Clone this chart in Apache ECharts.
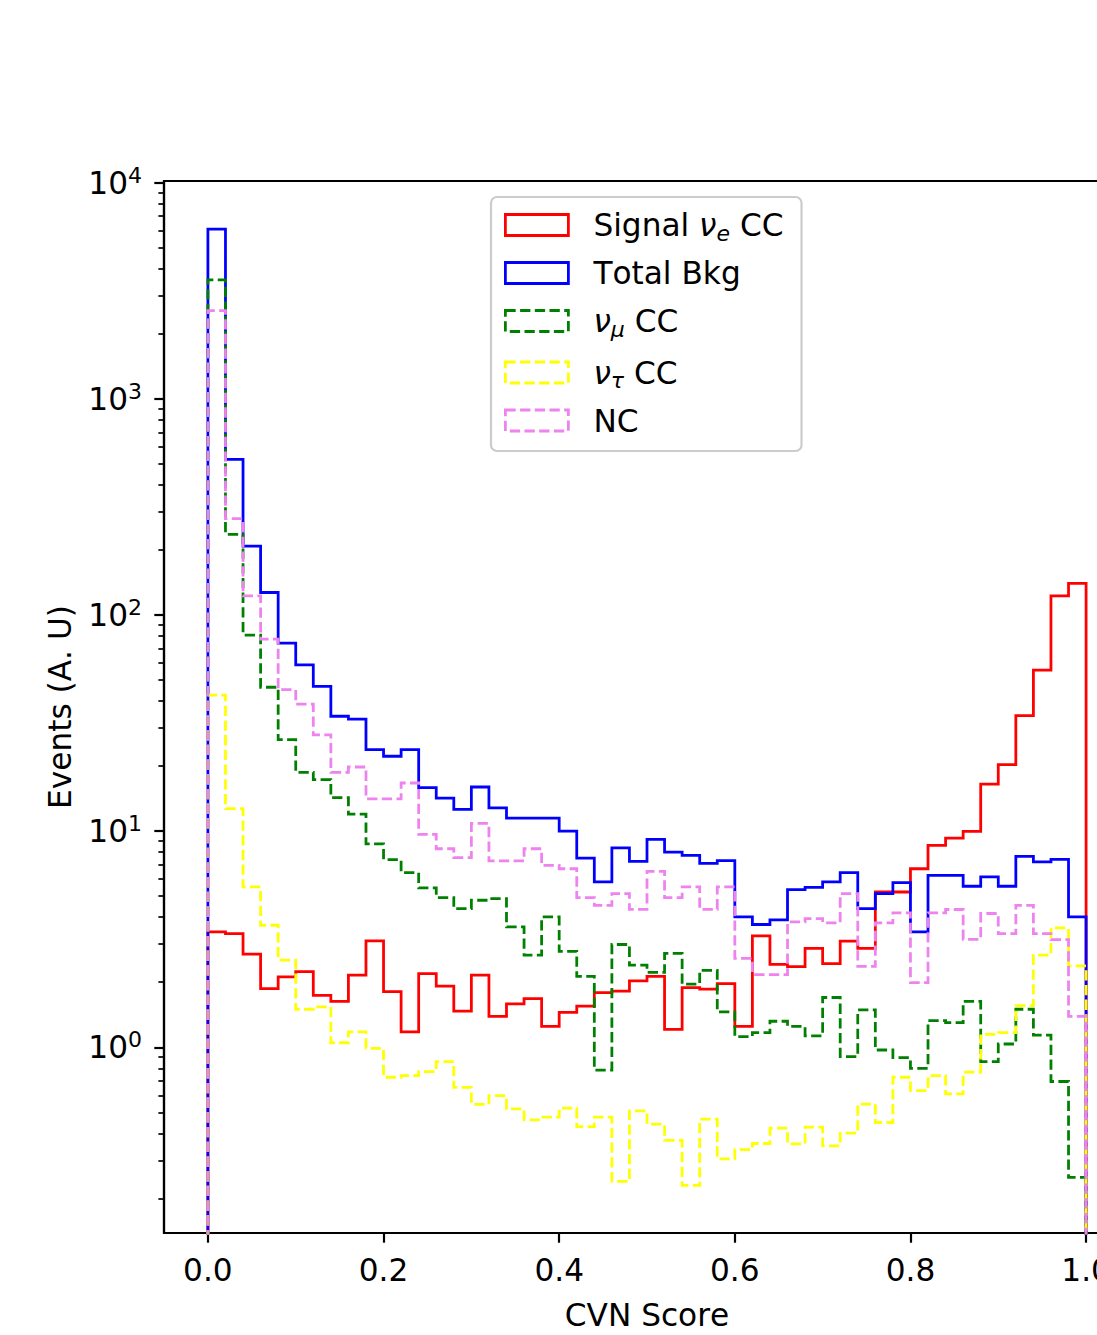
<!DOCTYPE html>
<html>
<head>
<meta charset="utf-8">
<script src="https://cdn.jsdelivr.net/npm/echarts@6/dist/echarts.min.js"></script>
<style>
  html, body { margin: 0; padding: 0; background: #ffffff; overflow: hidden; }
  /* the axes run past the right edge of the page */
  #chart { width: 1131px; height: 1335px; }
  #chart text { font-kerning: none; }
</style>
</head>
<body>
<div id="chart"></div>
<script>
// CVN score histograms: 50 bins of width 0.02 on [0, 1]
const binWidth = 0.02;

const signalNueCC = [
  3.42, 3.36, 2.70, 1.87, 2.12, 2.24, 1.74, 1.63, 2.16, 3.11,
  1.81, 1.18, 2.19, 1.92, 1.47, 2.16, 1.39, 1.59, 1.68, 1.25,
  1.45, 1.55, 1.79, 1.82, 2.03, 2.13, 1.21, 1.89, 1.86, 1.97,
  1.25, 3.28, 2.42, 2.36, 2.87, 2.44, 3.10, 2.87, 5.23, 5.23,
  6.70, 8.59, 9.29, 9.97, 16.5, 20.3, 34.2, 55.6, 122.5, 140
];
const totalBkg = [
  6085, 524, 208, 127, 74.1, 58.7, 46.7, 34.0, 33.0, 23.8,
  22.2, 23.8, 15.9, 14.2, 12.6, 16.0, 12.8, 11.5, 11.5, 11.5,
  10.0, 7.51, 5.82, 8.36, 7.25, 9.15, 8.00, 7.73, 7.10, 7.30,
  4.01, 3.70, 3.89, 5.36, 5.50, 5.82, 6.43, 4.38, 5.14, 5.78,
  3.42, 6.25, 6.25, 5.56, 6.14, 5.56, 7.64, 7.20, 7.40, 4.01
];
const numuCC = [
  3550, 236, 80.7, 46.3, 26.5, 18.7, 17.3, 14.3, 12.0, 8.74,
  7.38, 6.43, 5.46, 4.93, 4.38, 4.79, 4.87, 3.61, 2.67, 4.01,
  2.78, 2.13, 0.785, 2.99, 2.40, 2.22, 2.72, 1.96, 2.27, 1.46,
  1.12, 1.17, 1.32, 1.25, 1.13, 1.70, 0.906, 1.49, 0.972, 0.896,
  0.80, 1.33, 1.30, 1.63, 0.859, 1.036, 1.50, 1.14, 0.695, 0.250
];
const nutauCC = [
  42.6, 12.7, 5.52, 3.67, 2.53, 1.50, 1.54, 1.05, 1.18, 0.99,
  0.727, 0.740, 0.772, 0.859, 0.652, 0.545, 0.598, 0.519, 0.462, 0.475,
  0.523, 0.430, 0.475, 0.240, 0.508, 0.441, 0.371, 0.230, 0.465, 0.305,
  0.336, 0.359, 0.423, 0.358, 0.427, 0.350, 0.401, 0.546, 0.449, 0.727,
  0.631, 0.740, 0.609, 0.767, 1.148, 1.17, 1.56, 2.67, 3.57, 2.38
];
const neutralCurrent = [
  2555, 279, 122.5, 77.3, 45.1, 38.7, 27.9, 18.7, 19.8, 14.1,
  14.1, 16.7, 9.66, 8.29, 7.54, 10.85, 7.28, 7.28, 8.29, 6.94,
  6.70, 4.93, 4.54, 5.14, 4.35, 6.52, 4.93, 5.52, 4.35, 5.52,
  2.58, 2.17, 2.17, 3.80, 3.94, 3.76, 5.14, 2.37, 3.76, 4.19,
  1.99, 4.19, 4.34, 3.16, 4.16, 3.36, 4.54, 3.36, 3.15, 1.39
];

const seriesNames = ['Signal \u03bd_e CC', 'Total Bkg', '\u03bd_\u03bc CC', '\u03bd_\u03c4 CC', 'NC'];
const xTickValues = [0.0, 0.2, 0.4, 0.6, 0.8, 1.0];
const yMajorTicks = [1, 10, 100, 1000, 10000];
const yMinorTicks = [
  0.2, 0.3, 0.4, 0.5, 0.6, 0.7, 0.8, 0.9,
  2, 3, 4, 5, 6, 7, 8, 9,
  20, 30, 40, 50, 60, 70, 80, 90,
  200, 300, 400, 500, 600, 700, 800, 900,
  2000, 3000, 4000, 5000, 6000, 7000, 8000, 9000
];

const FONT = 'DejaVu Sans';
const FS = 31.2;
const LW = 2.78;
const DASH = [10.3, 4.4];
const Y_MIN = 0.1384, Y_MAX = 10170;
const FLOOR = 1e-3; // below the visible range: closes the outline at the bin edges

// Outline of a histogram drawn as a stepped line through the bin edges
function stepOutline(counts) {
  const pts = [[0, FLOOR]];
  counts.forEach((v, i) => pts.push([+(i * binWidth).toFixed(2), v]));
  pts.push([1.0, counts[counts.length - 1]]);
  pts.push([1.0, FLOOR]);
  return pts;
}

const styles = [
  { data: signalNueCC,    color: '#ff0000', dashed: false },
  { data: totalBkg,       color: '#0000ff', dashed: false },
  { data: numuCC,         color: '#008000', dashed: true },
  { data: nutauCC,        color: '#ffff00', dashed: true },
  { data: neutralCurrent, color: '#ee82ee', dashed: true }
];

const legendLabels = {
  'Signal \u03bd_e CC': '{sp| }{t|Signal }{g|\u03bd}{sub|e}{t| CC}',
  'Total Bkg': '{sp| }{t|Total Bkg}',
  '\u03bd_\u03bc CC': '{sp| }{g|\u03bd}{sub|\u03bc}{t| CC}',
  '\u03bd_\u03c4 CC': '{sp| }{g|\u03bd}{sub|\u03c4}{t| CC}',
  'NC': '{sp| }{t|NC}'
};

const chart = echarts.init(document.getElementById('chart'), null, { renderer: 'svg' });

chart.setOption({
  animation: false,
  backgroundColor: '#ffffff',
  grid: {
    left: 164, top: 181, width: 966, height: 1054,
    show: true, borderColor: '#000000', borderWidth: 2.2, backgroundColor: 'transparent'
  },
  xAxis: {
    type: 'value', min: -0.05, max: 1.05,
    name: 'CVN Score', nameLocation: 'middle', nameGap: 66,
    nameTextStyle: { fontFamily: FONT, fontSize: FS, color: '#000' },
    axisLine: { onZero: false, lineStyle: { color: '#000', width: 2.2 } },
    axisTick: { customValues: xTickValues, length: 9.7, lineStyle: { color: '#000', width: 2.2 } },
    axisLabel: {
      customValues: xTickValues, margin: 21,
      fontFamily: FONT, fontSize: FS, color: '#000',
      formatter: v => v.toFixed(1)
    },
    splitLine: { show: false }
  },
  yAxis: [
    {
      type: 'log', min: Y_MIN, max: Y_MAX, logBase: 10, position: 'left',
      name: 'Events (A. U)', nameLocation: 'middle', nameGap: 89,
      nameTextStyle: { fontFamily: FONT, fontSize: FS, color: '#000' },
      axisLine: { onZero: false, lineStyle: { color: '#000', width: 2.2 } },
      axisTick: { customValues: yMajorTicks, length: 9.7, lineStyle: { color: '#000', width: 2.2 } },
      axisLabel: {
        customValues: yMajorTicks, margin: 22,
        color: '#000',
        formatter: v => '{b|10}{s|' + Math.round(Math.log10(v)) + '}',
        rich: {
          b: { fontFamily: FONT, fontSize: FS, lineHeight: 30, color: '#000' },
          s: { fontFamily: FONT, fontSize: 22, lineHeight: 21, padding: [0, 0, 15, 0], color: '#000' }
        }
      },
      splitLine: { show: false }
    },
    {
      // minor ticks of the log scale
      type: 'log', min: Y_MIN, max: Y_MAX, logBase: 10, position: 'left',
      axisLine: { show: false, onZero: false },
      axisTick: { customValues: yMinorTicks, length: 5.6, lineStyle: { color: '#000', width: 1.7 } },
      axisLabel: { show: false },
      splitLine: { show: false }
    }
  ],
  legend: {
    orient: 'vertical', left: 491, top: 197,
    padding: [9, 18, 15, 13], itemGap: 13.5,
    itemWidth: 63, itemHeight: 21,
    backgroundColor: 'rgba(255,255,255,0.8)',
    borderColor: '#cccccc', borderWidth: 2.2, borderRadius: 6,
    icon: 'rect',
    formatter: name => legendLabels[name],
    textStyle: {
      color: '#000', fontFamily: FONT, fontSize: FS,
      rich: {
        sp: { width: 20, fontSize: FS, lineHeight: 30 },
        t: { fontFamily: FONT, fontSize: FS, lineHeight: 30, color: '#000' },
        g: { fontFamily: FONT, fontSize: FS, fontStyle: 'italic', lineHeight: 30, color: '#000' },
        sub: { fontFamily: FONT, fontSize: 22, fontStyle: 'italic', lineHeight: 21, padding: [16, 0, 0, 0], color: '#000' }
      }
    },
    data: seriesNames.map((n, i) => ({
      name: n,
      icon: 'rect',
      itemStyle: {
        color: 'transparent',
        borderColor: styles[i].color,
        borderWidth: LW,
        borderType: styles[i].dashed ? DASH : 'solid'
      }
    }))
  },
  series: seriesNames.map((n, i) => ({
    name: n,
    type: 'line',
    step: 'end',
    symbol: 'none',
    clip: true,
    yAxisIndex: 0,
    data: stepOutline(styles[i].data),
    itemStyle: { color: styles[i].color },
    lineStyle: {
      color: styles[i].color, width: LW,
      type: styles[i].dashed ? DASH : 'solid',
      join: 'miter', cap: 'butt'
    },
    emphasis: { disabled: true }
  }))
});
</script>
</body>
</html>
